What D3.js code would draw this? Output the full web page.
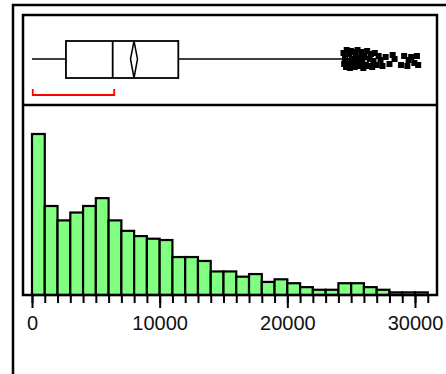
<!DOCTYPE html>
<html>
<head>
<meta charset="utf-8">
<script src="https://cdn.jsdelivr.net/npm/d3@7"></script>
<style>
  body { margin: 0; background: #fff; }
  svg { display: block; font-family: "Liberation Sans", Arial, sans-serif; }
</style>
</head>
<body>
<svg id="mainSvgArea" width="446" height="374"></svg>
<script>
// histogram: 1000-wide bins starting at 0
var binWidth = 1000;
var binCounts = [123, 68, 57, 63, 68, 74, 57, 49, 45, 43, 42, 29, 29, 26, 18, 18,
                 14, 16, 10, 12, 9, 6, 4, 4, 9, 9, 6, 4, 2, 2, 2];

// box plot summary
var whiskerLow = 0;
var quartile1 = 2660;
var median = 6320;
var mean = 7990;
var quartile3 = 11460;
var whiskerHigh = 24350;
var shortestHalf = [60, 6440];

// outliers and their vertical jitter (px)
var outliers = [24400, 24450, 24520, 24600, 24650, 24700, 24780, 24850, 24900, 24980,
                25050, 25120, 25200, 25280, 25350, 25420, 25500, 25580, 25650, 25720,
                25800, 25880, 25950, 26050, 26150, 26250, 26350, 26450, 26550, 26650,
                26750, 26850, 27000, 27150, 27300, 27450, 27700, 28000, 28250, 28400,
                28900, 29150, 29400, 29500, 29700, 29950, 30150, 30250];
var jitter = [-6, 5, -1, 8, -9, 2, 7, -5, 9, -8, 0, 5, -7, 8, -3, 2, -9, 7, -1, 5,
              -7, 3, 9, -2, 6, -8, 7, 0, -5, 8, 2, -6, 6, -3, 1, 7, -2, 5, -4, 0,
              6, -3, 7, 1, -2, 4, -3, 6];

var majorTicks = [0, 10000, 20000, 30000];

var svg = d3.select("#mainSvgArea");

var x = d3.scaleLinear().domain([0, 30000]).range([32, 415]);
var y = d3.scaleLinear().domain([0, 123]).range([295, 134]);

// frames
svg.append("rect")
    .attr("x", 13).attr("y", 5)
    .attr("width", 600).attr("height", 600)
    .attr("fill", "none").attr("stroke", "black").attr("stroke-width", 2.5);

drawBoxPlot();
drawHistogram();
drawAxis();

svg.append("rect")
    .attr("x", 23).attr("y", 15)
    .attr("width", 414).attr("height", 280)
    .attr("fill", "none").attr("stroke", "black").attr("stroke-width", 2.5);

svg.append("line")
    .attr("x1", 23).attr("x2", 437)
    .attr("y1", 105).attr("y2", 105)
    .attr("stroke", "black").attr("stroke-width", 2.5);

function drawBoxPlot(){
    var cy = 59, top = 41, bottom = 78;
    var g = svg.append("g");

    g.append("line")
        .attr("x1", x(whiskerLow)).attr("x2", x(quartile1))
        .attr("y1", cy).attr("y2", cy)
        .attr("stroke", "black").attr("stroke-width", 1.4);
    g.append("line")
        .attr("x1", x(quartile3)).attr("x2", x(whiskerHigh))
        .attr("y1", cy).attr("y2", cy)
        .attr("stroke", "black").attr("stroke-width", 1.4);

    g.append("rect")
        .attr("x", x(quartile1)).attr("y", top)
        .attr("width", x(quartile3) - x(quartile1))
        .attr("height", bottom - top)
        .attr("fill", "none").attr("stroke", "black").attr("stroke-width", 1.8);

    g.append("line")
        .attr("x1", x(median)).attr("x2", x(median))
        .attr("y1", top).attr("y2", bottom)
        .attr("stroke", "black").attr("stroke-width", 1.8);

    // mean diamond
    var mx = x(mean);
    g.append("path")
        .attr("d", "M" + mx + "," + top + "L" + (mx + 3.5) + "," + cy +
                   "L" + mx + "," + bottom + "L" + (mx - 3.5) + "," + cy + "Z")
        .attr("fill", "none").attr("stroke", "black").attr("stroke-width", 1.5);

    // shortest half bracket
    var x1 = x(shortestHalf[0]), x2 = x(shortestHalf[1]);
    g.append("path")
        .attr("d", "M" + x1 + ",89V95H" + x2 + "V89")
        .attr("fill", "none").attr("stroke", "#ff0000").attr("stroke-width", 1.8);

    g.selectAll("rect.outlier").data(outliers).enter().append("rect")
        .attr("class", "outlier")
        .attr("x", function(d){ return x(d) - 3; })
        .attr("y", function(d, i){ return cy + jitter[i] - 3; })
        .attr("width", 6).attr("height", 6)
        .attr("fill", "black");
}

function drawHistogram(){
    svg.append("g").selectAll("rect").data(binCounts).enter().append("rect")
        .attr("x", function(d, i){ return x(i * binWidth); })
        .attr("y", function(d){ return y(d); })
        .attr("width", x(binWidth) - x(0))
        .attr("height", function(d){ return y(0) - y(d); })
        .attr("fill", "#80ff80")
        .attr("stroke", "black")
        .attr("stroke-width", 2.2);
}

function drawAxis(){
    var minor = d3.range(0, binCounts.length * binWidth + 1, binWidth);
    var minorAxis = svg.append("g")
        .attr("transform", "translate(0,295)")
        .call(d3.axisBottom(x).tickValues(minor).tickSize(8).tickFormat(""));
    var majorAxis = svg.append("g")
        .attr("transform", "translate(0,295)")
        .call(d3.axisBottom(x).tickValues(majorTicks).tickSize(13).tickPadding(8)
            .tickFormat(d3.format("d")));

    [minorAxis, majorAxis].forEach(function(a){
        a.select(".domain").remove();
        a.selectAll("line").attr("stroke", "black").attr("stroke-width", 2);
    });
    majorAxis.selectAll("text")
        .attr("fill", "#111")
        .style("font-size", "20px")
        .style("font-family", "'Liberation Sans', Arial, sans-serif");
}
</script>
</body>
</html>
